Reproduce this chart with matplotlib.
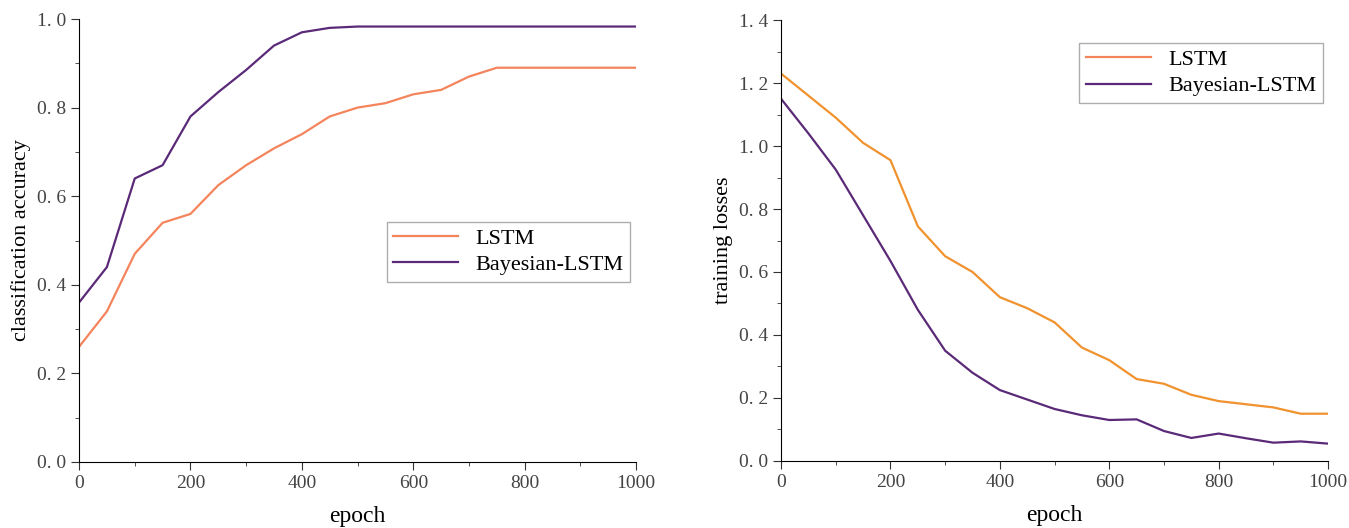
import matplotlib
matplotlib.use("Agg")
import matplotlib.pyplot as plt
from matplotlib.lines import Line2D
from matplotlib.ticker import MultipleLocator, FuncFormatter

plt.rcParams['font.family'] = ['Liberation Serif', 'DejaVu Serif']

epoch = [0, 50, 100, 150, 200, 250, 300, 350, 400, 450, 500,
         550, 600, 650, 700, 750, 800, 850, 900, 950, 1000]

# classification accuracy
acc_lstm = [0.26, 0.34, 0.47, 0.54, 0.56, 0.625, 0.67, 0.708, 0.74, 0.78, 0.80,
            0.81, 0.83, 0.84, 0.87, 0.89, 0.89, 0.89, 0.89, 0.89, 0.89]
acc_bayes = [0.36, 0.44, 0.64, 0.67, 0.78, 0.835, 0.885, 0.94, 0.97, 0.98, 0.983,
             0.983, 0.983, 0.983, 0.983, 0.983, 0.983, 0.983, 0.983, 0.983, 0.983]

# training losses
loss_lstm = [1.23, 1.16, 1.09, 1.01, 0.955, 0.745, 0.65, 0.60, 0.52, 0.485, 0.44,
             0.36, 0.32, 0.26, 0.245, 0.21, 0.19, 0.18, 0.17, 0.15, 0.15]
loss_bayes = [1.15, 1.04, 0.925, 0.78, 0.635, 0.48, 0.35, 0.28, 0.225, 0.195, 0.165,
              0.145, 0.13, 0.132, 0.095, 0.073, 0.087, 0.072, 0.058, 0.062, 0.055]

salmon = '#F4845C'
orange = '#F0922E'
purple = '#5A2A78'

fig = plt.figure(figsize=(13.49, 5.28), dpi=100)
ax1 = fig.add_axes([0.0586, 0.125, 0.4129, 0.839])
ax2 = fig.add_axes([0.579, 0.127, 0.4055, 0.835])

yfmt = FuncFormatter(lambda v, p: ('%.1f' % v).replace('.', '. '))


def style(ax, ymax, ylabel):
	ax.set_xlim(0, 1000)
	ax.set_ylim(0, ymax)
	ax.spines['top'].set_visible(False)
	ax.spines['right'].set_visible(False)
	ax.xaxis.set_major_locator(MultipleLocator(200))
	ax.xaxis.set_minor_locator(MultipleLocator(100))
	ax.yaxis.set_major_locator(MultipleLocator(0.2))
	ax.yaxis.set_minor_locator(MultipleLocator(0.1))
	ax.yaxis.set_major_formatter(yfmt)
	ax.tick_params(which='major', direction='out', length=6, labelsize=14, colors='#333333', labelcolor='#444444')
	ax.tick_params(which='minor', direction='out', length=3, colors='#333333')
	ax.set_xlabel('epoch', fontsize=17, labelpad=10)
	ax.set_ylabel(ylabel, fontsize=16, labelpad=4)


ax1.plot(epoch, acc_lstm, color=salmon, lw=1.6, label='LSTM')
ax1.plot(epoch, acc_bayes, color=purple, lw=1.6, label='Bayesian-LSTM')
style(ax1, 1.0, 'classification accuracy')
leg1 = ax1.legend(loc='upper right', bbox_to_anchor=(0.99, 0.542), fontsize=16,
                  fancybox=False, edgecolor='#999999', handlelength=2.9, borderpad=0.3,
                  labelspacing=0.25, borderaxespad=0)
leg1.get_frame().set_linewidth(1.0)

ax2.plot(epoch, loss_lstm, color=orange, lw=1.6)
ax2.plot(epoch, loss_bayes, color=purple, lw=1.6)
style(ax2, 1.4, 'training losses')
handles = [Line2D([], [], color=salmon, lw=1.6), Line2D([], [], color=purple, lw=1.6)]
leg2 = ax2.legend(handles, ['LSTM', 'Bayesian-LSTM'], loc='upper right',
                  bbox_to_anchor=(0.991, 0.948), fontsize=16, fancybox=False,
                  edgecolor='#999999', handlelength=2.9, borderpad=0.3,
                  labelspacing=0.25, borderaxespad=0)
leg2.get_frame().set_linewidth(1.0)

fig.savefig('out.png', dpi=100)
